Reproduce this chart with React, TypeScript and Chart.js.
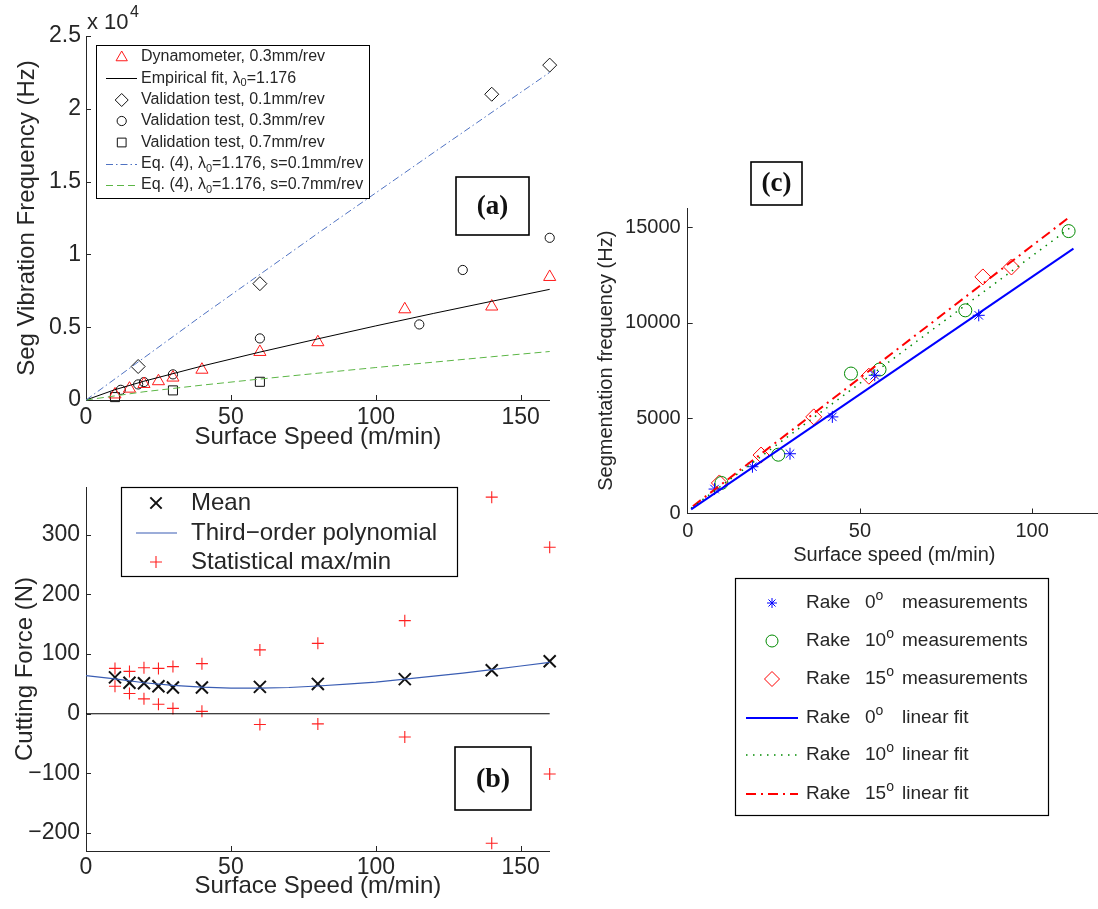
import React, { useEffect, useRef } from 'react';
import { Chart, registerables } from 'chart.js';

Chart.register(...registerables);

// ---------------- Panel (a) data ----------------
const aDynoSpeed = [10, 15, 20, 25, 30, 40, 60, 80, 110, 140, 160];
const aDynoFreq = [380, 780, 1100, 1290, 1540, 2080, 3300, 3970, 6230, 6420, 8450];
const aFitSpeed = [0, 10, 20, 40, 60, 80, 100, 120, 140, 160];
const aFitFreq = [0, 710, 1290, 2330, 3290, 4200, 5090, 5950, 6780, 7600];
const aV01Speed = [18, 60, 140, 160];
const aV01Freq = [2300, 7990, 21000, 23000];
const aV03Speed = [12, 18, 20, 30, 60, 115, 130, 160];
const aV03Freq = [700, 1070, 1230, 1760, 4230, 5190, 8930, 11140];
const aV07Speed = [10, 30, 60];
const aV07Freq = [200, 660, 1250];
const aEq01Speed = [0, 40, 80, 120, 160];
const aEq01Freq = [0, 5800, 11450, 17000, 22500];
const aEq07Speed = [0, 20, 40, 60, 80, 100, 120, 140, 160];
const aEq07Freq = [0, 565, 1020, 1440, 1840, 2230, 2600, 2970, 3330];
const aXTicks = [0, 50, 100, 150];
const aXTickLabels = ['0', '50', '100', '150'];
const aYTicks = [0, 5000, 10000, 15000, 20000, 25000];
const aYTickLabels = ['0', '0.5', '1', '1.5', '2', '2.5'];

// ---------------- Panel (b) data ----------------
const bSpeed = [10, 15, 20, 25, 30, 40, 60, 80, 110, 140, 160];
const bMean = [61, 52, 51, 46, 44, 44, 45, 50, 58, 73, 88];
const bMax = [76, 71, 77, 76, 79, 84, 107, 118, 156, 363, 279];
const bMin = [46, 34, 25, 16, 9, 4, -18, -17, -39, -217, -101];
const bPolySpeed = [0, 10, 20, 30, 40, 50, 60, 70, 80, 90, 100, 110, 120, 130, 140, 150, 160];
const bPolyForce = [64, 58.5, 52, 47.5, 44.5, 43, 43, 44, 46.5, 49.5, 53, 58, 63, 68, 74, 80, 86];
const bZeroSpeed = [0, 160];
const bZeroForce = [0, 0];
const bXTicks = [0, 50, 100, 150];
const bXTickLabels = ['0', '50', '100', '150'];
const bYTicks = [-200, -100, 0, 100, 200, 300];
const bYTickLabels = ['\u2212200', '\u2212100', '0', '100', '200', '300'];

// ---------------- Panel (c) data ----------------
const cR0Speed = [7.8, 18.8, 29.7, 42, 54.3, 84.5];
const cR0Freq = [1280, 2450, 3130, 5060, 7240, 10380];
const cR10Speed = [9.8, 26.3, 47.4, 55.7, 80.6, 110.6];
const cR10Freq = [1600, 3080, 7330, 7540, 10640, 14790];
const cR15Speed = [9.2, 21.3, 36.6, 52.6, 85.7, 94];
const cR15Freq = [1600, 3060, 5060, 7190, 12390, 12910];
const cFit0Speed = [1, 112];
const cFit0Freq = [220, 13870];
const cFit10Speed = [1, 110.8];
const cFit10Freq = [280, 14930];
const cFit15Speed = [1.5, 110.8];
const cFit15Freq = [380, 15520];
const cXTicks = [0, 50, 100];
const cXTickLabels = ['0', '50', '100'];
const cYTicks = [0, 5000, 10000, 15000];
const cYTickLabels = ['0', '5000', '10000', '15000'];

// ---------------- styling helpers ----------------
const FONT = "'Liberation Sans', Arial, Helvetica, sans-serif";
const SERIF = "'Liberation Serif', 'Times New Roman', serif";
const AXIS = '#262626';

const zip = (xs: number[], ys: number[]) => xs.map((x, i) => ({ x, y: ys[i] }));

function xScale(min: number, max: number, ticks: number[], labels: string[], size: number, pad: number, height: number, title: string, titleSize: number, titlePad: number) {
  return {
    type: 'linear', position: 'bottom', min, max,
    afterBuildTicks: (s: any) => { s.ticks = ticks.map((v) => ({ value: v })); },
    afterFit: (s: any) => { s.height = height; },
    ticks: { autoSkip: false, maxRotation: 0, minRotation: 0, padding: pad, color: AXIS, font: { family: FONT, size, lineHeight: 1 }, callback: (_v: any, i: number) => labels[i] },
    grid: { display: false, drawTicks: false },
    border: { display: true, color: AXIS, width: 1 },
    title: { display: true, text: title, color: AXIS, font: { family: FONT, size: titleSize, lineHeight: 1 }, padding: { top: 0, bottom: titlePad } },
  };
}

function yScale(min: number, max: number, ticks: number[], labels: string[], size: number, pad: number, width: number, title: string, titleSize: number, titlePad: number) {
  return {
    type: 'linear', position: 'left', min, max,
    afterBuildTicks: (s: any) => { s.ticks = ticks.map((v) => ({ value: v })); },
    afterFit: (s: any) => { s.width = width; },
    ticks: { autoSkip: false, padding: pad, color: AXIS, font: { family: FONT, size, lineHeight: 1 }, callback: (_v: any, i: number) => labels[i] },
    grid: { display: false, drawTicks: false },
    border: { display: true, color: AXIS, width: 1 },
    title: { display: true, text: title, color: AXIS, font: { family: FONT, size: titleSize, lineHeight: 1 }, padding: { top: titlePad, bottom: 0 } },
  };
}

function markers(xs: number[], ys: number[], style: string, r: number, color: string, lw: number) {
  return {
    data: zip(xs, ys), showLine: false, clip: false,
    pointStyle: style, pointRadius: r, pointHoverRadius: r, pointBorderWidth: lw,
    pointBorderColor: color, borderColor: color,
    pointBackgroundColor: 'rgba(0,0,0,0)', backgroundColor: 'rgba(0,0,0,0)',
  };
}

function line(xs: number[], ys: number[], color: string, lw: number, dash: number[] = []) {
  return {
    data: zip(xs, ys), showLine: true, clip: false, fill: false, tension: 0,
    borderColor: color, borderWidth: lw, borderDash: dash, pointRadius: 0, pointHoverRadius: 0,
    backgroundColor: color,
  };
}

function drawMarker(ctx: CanvasRenderingContext2D, style: string, x: number, y: number, r: number, color: string, lw: number) {
  ctx.save();
  ctx.strokeStyle = color;
  ctx.lineWidth = lw;
  ctx.setLineDash([]);
  ctx.beginPath();
  const d = r * Math.SQRT1_2;
  switch (style) {
    case 'triangle':
      ctx.moveTo(x, y - r); ctx.lineTo(x + r * 0.866, y + r / 2); ctx.lineTo(x - r * 0.866, y + r / 2); ctx.closePath(); break;
    case 'rectRot':
      ctx.moveTo(x, y - r); ctx.lineTo(x + r, y); ctx.lineTo(x, y + r); ctx.lineTo(x - r, y); ctx.closePath(); break;
    case 'rect':
      ctx.rect(x - d, y - d, 2 * d, 2 * d); break;
    case 'circle':
      ctx.arc(x, y, r, 0, Math.PI * 2); break;
    case 'cross':
      ctx.moveTo(x - r, y); ctx.lineTo(x + r, y); ctx.moveTo(x, y - r); ctx.lineTo(x, y + r); break;
    case 'crossRot':
      ctx.moveTo(x - d, y - d); ctx.lineTo(x + d, y + d); ctx.moveTo(x + d, y - d); ctx.lineTo(x - d, y + d); break;
    case 'star':
      ctx.moveTo(x - r, y); ctx.lineTo(x + r, y); ctx.moveTo(x, y - r); ctx.lineTo(x, y + r);
      ctx.moveTo(x - d, y - d); ctx.lineTo(x + d, y + d); ctx.moveTo(x + d, y - d); ctx.lineTo(x - d, y + d); break;
  }
  ctx.stroke();
  ctx.restore();
}

function drawSample(ctx: CanvasRenderingContext2D, x1: number, x2: number, y: number, color: string, lw: number, dash: number[]) {
  ctx.save();
  ctx.strokeStyle = color;
  ctx.lineWidth = lw;
  ctx.setLineDash(dash);
  ctx.beginPath();
  ctx.moveTo(x1, y);
  ctx.lineTo(x2, y);
  ctx.stroke();
  ctx.restore();
}

type Run = { t: string; sub?: boolean; sup?: boolean };
function drawRuns(ctx: CanvasRenderingContext2D, x: number, y: number, runs: Run[], size: number, supSize?: number) {
  let cx = x;
  ctx.save();
  ctx.fillStyle = AXIS;
  ctx.textBaseline = 'middle';
  ctx.textAlign = 'left';
  for (const r of runs) {
    const s = r.sub || r.sup ? (supSize || size * 0.65) : size;
    ctx.font = `${s}px ${FONT}`;
    const dy = r.sub ? size * 0.32 : r.sup ? -size * 0.36 : 0;
    ctx.fillText(r.t, cx, y + dy);
    cx += ctx.measureText(r.t).width;
  }
  ctx.restore();
}

function drawBox(ctx: CanvasRenderingContext2D, x: number, y: number, w: number, h: number, lw: number) {
  ctx.save();
  ctx.fillStyle = '#ffffff';
  ctx.fillRect(x, y, w, h);
  ctx.strokeStyle = '#000000';
  ctx.lineWidth = lw;
  ctx.setLineDash([]);
  ctx.strokeRect(x, y, w, h);
  ctx.restore();
}

function drawLabelBox(ctx: CanvasRenderingContext2D, x: number, y: number, w: number, h: number, text: string, size: number) {
  drawBox(ctx, x, y, w, h, 1.6);
  ctx.save();
  ctx.fillStyle = '#111';
  ctx.font = `bold ${size}px ${SERIF}`;
  ctx.textAlign = 'center';
  ctx.textBaseline = 'middle';
  ctx.fillText(text, x + w / 2, y + h / 2 + 1);
  ctx.restore();
}

function drawInwardTicks(chart: any, len: number) {
  const ctx = chart.ctx as CanvasRenderingContext2D;
  const a = chart.chartArea;
  const xs = chart.scales.x;
  const ys = chart.scales.y;
  ctx.save();
  ctx.strokeStyle = AXIS;
  ctx.lineWidth = 1;
  ctx.setLineDash([]);
  ctx.beginPath();
  for (const t of xs.ticks) {
    const px = Math.round(xs.getPixelForValue(t.value)) + 0.5;
    if (px - a.left < 2) continue;
    ctx.moveTo(px, a.bottom);
    ctx.lineTo(px, a.bottom - len);
  }
  for (const t of ys.ticks) {
    const py = Math.round(ys.getPixelForValue(t.value)) + 0.5;
    if (a.bottom - py < 2) continue;
    ctx.moveTo(a.left, py);
    ctx.lineTo(a.left + len, py);
  }
  ctx.stroke();
  ctx.restore();
}

const baseOptions = (padding: any) => ({
  responsive: false,
  maintainAspectRatio: false,
  animation: false,
  devicePixelRatio: 1,
  events: [],
  layout: { padding },
  plugins: { legend: { display: false }, tooltip: { enabled: false }, title: { display: false } },
});

// ---------------- configs ----------------
function buildA() {
  const datasets = [
    line(aEq01Speed, aEq01Freq, '#4f72c2', 1, [7, 3, 1.5, 3]),
    line(aEq07Speed, aEq07Freq, '#5cb646', 1, [7, 4]),
    line(aFitSpeed, aFitFreq, '#000000', 1),
    markers(aDynoSpeed, aDynoFreq, 'triangle', 7, '#ff1a1a', 1),
    markers(aV01Speed, aV01Freq, 'rectRot', 7, '#111111', 1),
    markers(aV03Speed, aV03Freq, 'circle', 4.6, '#111111', 1),
    markers(aV07Speed, aV07Freq, 'rect', 6.4, '#111111', 1),
  ];
  return {
    type: 'scatter',
    data: { datasets },
    options: {
      ...baseOptions({ left: 0, top: 36, right: 25.3, bottom: 0 }),
      scales: {
        x: xScale(0, 160, aXTicks, aXTickLabels, 23, 6, 50, 'Surface Speed (m/min)', 24, 1),
        y: yScale(0, 25000, aYTicks, aYTickLabels, 23, 5, 86, 'Seg Vibration Frequency (Hz)', 24, 15),
      },
    },
    plugins: [{
      id: 'extrasA',
      afterDraw(chart: any) {
        const ctx = chart.ctx as CanvasRenderingContext2D;
        drawInwardTicks(chart, 5);
        // exponent label
        drawRuns(ctx, 87, 23, [{ t: 'x 10' }], 22);
        drawRuns(ctx, 130, 13, [{ t: '4' }], 16);
        // legend
        drawBox(ctx, 96.5, 45.5, 273, 153, 1);
        const tx = 141, mx = 121.7, fs = 16;
        drawMarker(ctx, 'triangle', mx, 57.5, 6.5, '#ff1a1a', 1);
        drawRuns(ctx, tx, 56.7, [{ t: 'Dynamometer, 0.3mm/rev' }], fs);
        drawSample(ctx, 106, 137, 78.5, '#000', 1, []);
        drawRuns(ctx, tx, 78.3, [{ t: 'Empirical fit, \u03bb' }, { t: '0', sub: true }, { t: '=1.176' }], fs, 11);
        drawMarker(ctx, 'rectRot', mx, 100, 6.5, '#111', 1);
        drawRuns(ctx, tx, 100, [{ t: 'Validation test, 0.1mm/rev' }], fs);
        drawMarker(ctx, 'circle', mx, 121, 4.6, '#111', 1);
        drawRuns(ctx, tx, 120.7, [{ t: 'Validation test, 0.3mm/rev' }], fs);
        drawMarker(ctx, 'rect', mx, 142.5, 6.2, '#111', 1);
        drawRuns(ctx, tx, 142.3, [{ t: 'Validation test, 0.7mm/rev' }], fs);
        drawSample(ctx, 106, 137, 164.5, '#4f72c2', 1, [7, 3, 1.5, 3]);
        drawRuns(ctx, tx, 164, [{ t: 'Eq. (4), \u03bb' }, { t: '0', sub: true }, { t: '=1.176, s=0.1mm/rev' }], fs, 11);
        drawSample(ctx, 106, 137, 185.5, '#5cb646', 1, [7, 4]);
        drawRuns(ctx, tx, 185, [{ t: 'Eq. (4), \u03bb' }, { t: '0', sub: true }, { t: '=1.176, s=0.7mm/rev' }], fs, 11);
        // (a) label
        drawLabelBox(ctx, 456, 177, 73, 58, '(a)', 27);
      },
    }],
  };
}

function buildB() {
  const datasets = [
    line(bZeroSpeed, bZeroForce, '#000000', 1),
    line(bPolySpeed, bPolyForce, '#3a5db3', 1.2),
    markers(bSpeed, bMean, 'crossRot', 8.5, '#111111', 2),
    markers(bSpeed, bMax, 'cross', 6, '#ff2020', 1.1),
    markers(bSpeed, bMin, 'cross', 6, '#ff2020', 1.1),
  ];
  return {
    type: 'scatter',
    data: { datasets },
    options: {
      ...baseOptions({ left: 0, top: 32, right: 25.3, bottom: 0 }),
      scales: {
        x: xScale(0, 160, bXTicks, bXTickLabels, 23, 5, 58, 'Surface Speed (m/min)', 24, 11),
        y: yScale(-230, 380, bYTicks, bYTickLabels, 23, 6, 86, 'Cutting Force (N)', 24, 13),
      },
    },
    plugins: [{
      id: 'extrasB',
      afterDraw(chart: any) {
        const ctx = chart.ctx as CanvasRenderingContext2D;
        drawInwardTicks(chart, 5);
        const oy = 455;
        drawBox(ctx, 121.5, 487.5 - oy, 336, 89, 1.2);
        const tx = 191, mx = 156, fs = 24;
        drawMarker(ctx, 'crossRot', mx, 503 - oy, 8, '#111', 2);
        drawRuns(ctx, tx, 503 - oy, [{ t: 'Mean' }], fs);
        drawSample(ctx, 136, 177, 533 - oy, '#3a5db3', 1.2, []);
        drawRuns(ctx, tx, 533 - oy, [{ t: 'Third\u2212order polynomial' }], fs);
        drawMarker(ctx, 'cross', mx, 562 - oy, 6, '#ff2020', 1.1);
        drawRuns(ctx, tx, 562 - oy, [{ t: 'Statistical max/min' }], fs);
        drawLabelBox(ctx, 455, 747 - oy, 76, 63, '(b)', 28);
      },
    }],
  };
}

function buildC() {
  const datasets = [
    line(cFit0Speed, cFit0Freq, '#0000ff', 2),
    line(cFit10Speed, cFit10Freq, '#008a00', 1.5, [1.5, 5.5]),
    line(cFit15Speed, cFit15Freq, '#ff0000', 2, [10, 5, 2, 5]),
    markers(cR0Speed, cR0Freq, 'star', 6, '#0000ff', 1),
    markers(cR10Speed, cR10Freq, 'circle', 6.5, '#008a00', 1),
    markers(cR15Speed, cR15Freq, 'rectRot', 8, '#ff0000', 1),
  ];
  return {
    type: 'scatter',
    data: { datasets },
    options: {
      ...baseOptions({ left: 0, top: 58, right: 4.7, bottom: 261.5 }),
      scales: {
        x: xScale(0, 120, cXTicks, cXTickLabels, 20, 8, 55, 'Surface speed (m/min)', 20, 3.5),
        y: yScale(0, 16000, cYTicks, cYTickLabels, 20, 7, 107.7, 'Segmentation frequency (Hz)', 20, 16),
      },
    },
    plugins: [{
      id: 'extrasC',
      afterDraw(chart: any) {
        const ctx = chart.ctx as CanvasRenderingContext2D;
        drawInwardTicks(chart, 5);
        const ox = 580, oy = 150;
        drawLabelBox(ctx, 751 - ox, 162 - oy, 51, 43, '(c)', 27);
        drawBox(ctx, 735.5 - ox, 578.5 - oy, 313, 237, 1.2);
        const mx = 772 - ox, l1 = 746 - ox, l2 = 798 - ox;
        const rx = 806 - ox, nx = 865 - ox, wx = 902 - ox, fs = 19;
        const rows = [
          { y: 603, num: '0', word: 'measurements' },
          { y: 641, num: '10', word: 'measurements' },
          { y: 679, num: '15', word: 'measurements' },
          { y: 718, num: '0', word: 'linear fit' },
          { y: 755, num: '10', word: 'linear fit' },
          { y: 794, num: '15', word: 'linear fit' },
        ];
        drawMarker(ctx, 'star', mx, 603 - oy, 5, '#0000ff', 1);
        drawMarker(ctx, 'circle', mx, 641 - oy, 6, '#008a00', 1);
        drawMarker(ctx, 'rectRot', mx, 679 - oy, 7.5, '#ff0000', 1);
        drawSample(ctx, l1, l2, 718 - oy, '#0000ff', 2, []);
        drawSample(ctx, l1, l2, 755 - oy, '#008a00', 1.5, [1.5, 5.5]);
        drawSample(ctx, l1, l2, 794 - oy, '#ff0000', 2, [10, 5, 2, 5]);
        for (const r of rows) {
          const y = r.y - oy;
          drawRuns(ctx, rx, y, [{ t: 'Rake' }], fs);
          drawRuns(ctx, nx, y, [{ t: r.num }, { t: 'o', sup: true }], fs, 14);
          drawRuns(ctx, wx, y, [{ t: r.word }], fs);
        }
      },
    }],
  };
}

function ChartBox({ left, top, width, height, build }: { left: number; top: number; width: number; height: number; build: () => any }) {
  const ref = useRef<HTMLCanvasElement>(null);
  useEffect(() => {
    const chart = new Chart(ref.current as HTMLCanvasElement, build());
    return () => chart.destroy();
  }, []);
  return (
    <canvas
      ref={ref}
      width={width}
      height={height}
      style={{ position: 'absolute', left, top, width, height, display: 'block' }}
    />
  );
}

export default function App() {
  return (
    <div style={{ position: 'absolute', left: 0, top: 0, width: 1098, height: 909, overflow: 'hidden', background: '#ffffff' }}>
      <ChartBox left={0} top={0} width={575} height={450} build={buildA} />
      <ChartBox left={0} top={455} width={575} height={454} build={buildB} />
      <ChartBox left={580} top={150} width={530} height={680} build={buildC} />
    </div>
  );
}
